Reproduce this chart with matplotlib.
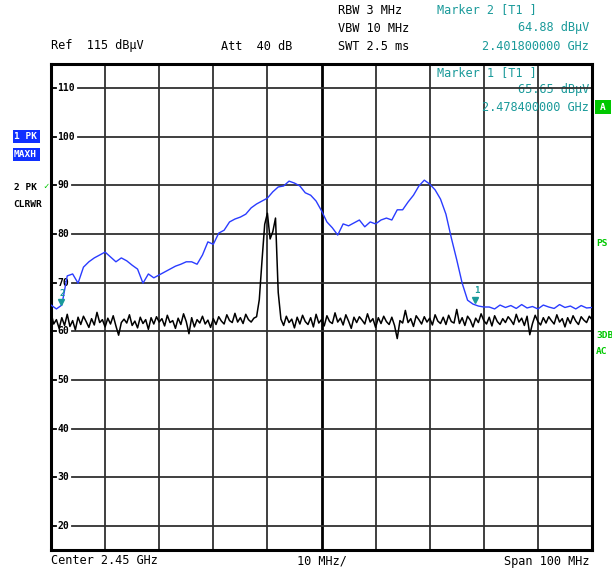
import matplotlib
matplotlib.use("Agg")
import matplotlib.pyplot as plt
from matplotlib.patches import Rectangle

W, H = 612, 569

# Max hold trace (1 PK MAXH), one point per MHz from 2400 to 2500 MHz
blue_freq = [2400 + i for i in range(101)]
blue_db = [65.4, 64.6, 65.4, 71.4, 71.8, 69.9, 73.2, 74.3, 75.1, 75.7,
           76.3, 75.3, 74.3, 75.1, 74.5, 73.6, 72.8, 69.9, 71.8, 71.0,
           71.6, 72.2, 72.8, 73.4, 73.8, 74.3, 74.3, 73.8, 75.7, 78.4,
           77.9, 80.2, 80.8, 82.5, 83.1, 83.5, 84.1, 85.4, 86.2, 86.8,
           87.4, 88.7, 89.7, 89.9, 90.9, 90.5, 89.9, 88.5, 88.0, 86.8,
           84.8, 82.5, 81.3, 79.8, 82.1, 81.7, 82.3, 82.9, 81.5, 82.5,
           82.1, 82.9, 83.3, 82.9, 85.0, 85.0, 86.6, 88.0, 89.9, 91.1,
           90.3, 89.1, 87.2, 84.1, 79.2, 74.7, 69.9, 66.4, 65.6, 65.2,
           65.0, 65.0, 64.6, 65.4, 64.9, 65.3, 64.7, 65.5, 64.8, 65.1,
           64.6, 65.4, 65.0, 64.7, 65.5, 64.9, 65.2, 64.6, 65.3, 64.8,
           64.9]

# Clear/write trace (2 PK CLRWR), one point per 0.5 MHz
black_freq = [2400 + 0.5 * i for i in range(201)]
black_db = [63.8, 61.5, 62.4, 60.6, 62.8, 61.2, 63.5, 61.0, 62.2, 60.3,
            62.9, 61.4, 63.1, 62.0, 60.8, 62.6, 61.3, 63.9, 61.8, 62.4,
            60.9, 62.7, 61.5, 63.2, 61.1, 59.2, 61.8, 62.5, 61.7, 63.4,
            61.2, 62.1, 60.7, 62.9, 61.6, 62.4, 60.4, 62.8, 61.5, 63.0,
            61.9, 62.6, 61.1, 63.3, 61.8, 62.2, 60.6, 62.7, 61.4, 63.6,
            62.0, 59.5, 62.8, 60.9, 62.4, 61.7, 63.1, 61.5, 62.3, 60.8,
            62.6, 61.4, 63.0, 62.1, 61.5, 63.4, 62.2, 61.8, 63.7, 61.9,
            62.8, 61.6, 63.5, 62.4, 61.9, 62.7,
            63.0, 66.5, 74.5, 82.0, 84.3, 79.0, 80.5, 83.3, 68.0, 62.5,
            61.2, 63.1, 61.8, 62.5, 60.7, 62.9, 61.5, 63.3, 62.0, 61.4,
            62.8, 60.9, 63.5, 61.7, 62.4, 61.1, 63.2, 62.0, 61.6, 63.8,
            61.9, 62.7, 61.3, 63.4, 62.1, 60.6, 62.9, 61.8, 63.0, 62.3,
            61.5, 63.6, 61.9, 62.6, 60.8, 62.8, 61.6, 63.1, 62.0, 61.4,
            62.9, 61.2, 58.5, 62.2, 61.7, 64.3, 61.8, 62.6, 61.0, 63.2,
            62.4, 61.5, 63.0, 61.9, 62.7, 61.3, 63.4, 62.1, 61.6, 62.9,
            61.4, 63.3, 62.0, 61.7, 64.5, 61.6, 62.8, 61.2, 63.1, 62.3,
            60.9, 62.7, 61.8, 63.6, 62.2, 61.5, 62.9, 61.1, 63.2, 62.0,
            61.4, 62.6, 61.8, 63.0, 62.3, 61.4, 63.5, 61.9, 62.7, 61.2,
            63.1, 59.3, 61.6, 63.3, 62.0, 61.3, 62.8, 61.7, 63.0, 62.2,
            61.5, 63.4, 61.9, 62.6, 60.9, 62.8, 61.6, 63.2, 62.1, 61.4,
            63.0, 62.3, 61.8, 63.1, 62.4]

y_labels = [110, 100, 90, 80, 70, 60, 50, 40, 30, 20]
markers = [(2401.8, 64.88, "2"), (2478.4, 65.3, "1")]

TEAL = "#1a9a9a"
GREEN = "#00c800"
BLUE = "#2a3cff"
MONO = "DejaVu Sans Mono"
BIG = 8.6  # header / footer / marker text


def fx(x):  # pixel -> figure fraction
    return x / W


def fy(y):
    return 1 - y / H


def px_to_freq(x):
    return 2400 + (x - 51) / 5.41


def px_to_db(y):
    return 115 - (y - 64) / 4.86


def txt(x, y, s, color="black", ha="left", size=BIG, weight="normal"):
    plt.gcf().text(fx(x), fy(y), s, color=color, ha=ha, va="center",
                   family=MONO, fontsize=size, fontweight=weight)


def box(x0, y0, x1, y1, color):
    plt.gcf().add_artist(Rectangle((fx(x0), fy(y1)), (x1 - x0) / W, (y1 - y0) / H,
                                   transform=plt.gcf().transFigure,
                                   facecolor=color, edgecolor="none"))


fig = plt.figure(figsize=(W / 100, H / 100), dpi=100)
ax = fig.add_axes([fx(51), fy(550), 541 / W, 486 / H])
ax.set_xlim(2400, 2500)
ax.set_ylim(15, 115)
ax.set_xticks([])
ax.set_yticks([])
for s in ax.spines.values():
    s.set_linewidth(2.2)

# grid
for f in range(2410, 2500, 10):
    if f == 2450:
        ax.axvline(f, color="black", lw=2.0, zorder=1)
    else:
        ax.axvline(f, color="#303030", lw=1.3, zorder=1)
for v in y_labels:
    start = 0.05 if v >= 100 else 0.039
    ax.axhline(v, xmin=start, xmax=1, color="#303030", lw=1.3, zorder=1)
    ax.axhline(v, xmin=0, xmax=0.01, color="black", lw=1.3, zorder=1)
    ax.text(0.012, v, str(v), transform=ax.get_yaxis_transform(), va="center",
            ha="left", family=MONO, fontsize=7, fontweight="bold", zorder=2)

# traces
ax.plot(black_freq, black_db, color="black", lw=1.1, zorder=3)
ax.plot(blue_freq, blue_db, color=BLUE, lw=1.0, zorder=4)

# markers
for f, v, name in markers:
    ax.plot([f], [v + 1.2], marker="v", color=TEAL, ms=5, zorder=5)
    ax.text(f + 0.3, v + 3.0, name, color=TEAL, ha="center", va="center",
            family=MONO, fontsize=6.5, fontweight="bold", zorder=5)

# marker 1 readout inside the grid
ax.text(px_to_freq(437), px_to_db(73), "Marker 1 [T1 ]", color=TEAL, family=MONO,
        fontsize=BIG, va="center", zorder=2)
ax.text(px_to_freq(589), px_to_db(90), "65.65 dBµV", color=TEAL, family=MONO,
        fontsize=BIG, va="center", ha="right", zorder=0.5)
ax.text(px_to_freq(589), px_to_db(108), "2.478400000 GHz", color=TEAL, family=MONO,
        fontsize=BIG, va="center", ha="right", zorder=2)

# header
txt(338, 10, "RBW 3 MHz")
txt(338, 28, "VBW 10 MHz")
txt(338, 46, "SWT 2.5 ms")
txt(51, 46, "Ref  115 dBµV")
txt(221, 46, "Att  40 dB")
txt(437, 10, "Marker 2 [T1 ]", color=TEAL)
txt(589, 28, "64.88 dBµV", color=TEAL, ha="right")
txt(589, 46, "2.401800000 GHz", color=TEAL, ha="right")

# left side trace info
box(13, 130, 40, 143, "#1030ff")
box(13, 148, 40, 161, "#1030ff")
txt(14, 136.5, "1 PK", color="white", size=6.8, weight="bold")
txt(14, 154.5, "MAXH", color="white", size=6.8, weight="bold")
txt(14, 187, "2 PK", size=6.8, weight="bold")
txt(43, 186, "\u2713", color=GREEN, size=6.5)
txt(13, 204, "CLRWR", size=6.8, weight="bold")

# right side flags
box(595, 100, 611, 114, GREEN)
txt(603, 107, "A", color="white", ha="center", size=6.8, weight="bold")
txt(596, 243, "PS", color=GREEN, size=6.8, weight="bold")
txt(596, 336, "3DB", color=GREEN, size=6.8, weight="bold")
txt(596, 352, "AC", color=GREEN, size=6.8, weight="bold")

# footer
txt(51, 561, "Center 2.45 GHz")
txt(322, 561, "10 MHz/", ha="center")
txt(589, 561, "Span 100 MHz", ha="right")

fig.savefig("out.png", dpi=100, facecolor="white")
